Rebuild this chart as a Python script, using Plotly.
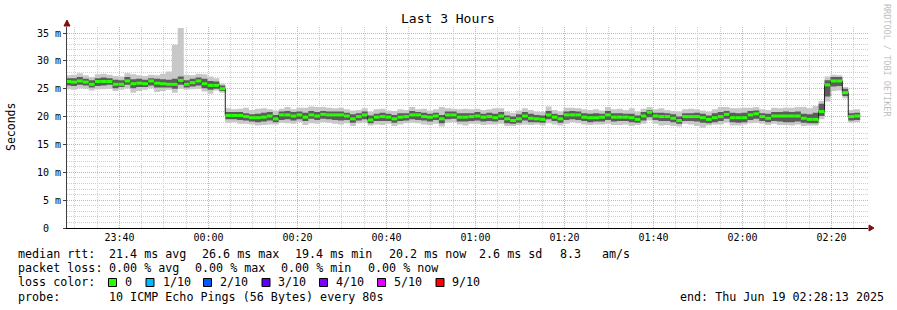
import plotly.graph_objects as go
from datetime import datetime, timedelta

# ---------------- data ----------------
median = [26.3, 26.2, 26.4, 26.2, 25.8, 26.3, 26.3, 26.3, 25.8, 25.8,
          26.4, 25.9, 26.0, 25.9, 26.4, 26.0, 25.9, 25.8, 25.8, 26.5,
          25.8, 26.1, 26.4, 25.9, 25.6, 25.6, 25.0, 20.2, 20.2, 20.2,
          20.0, 19.8, 19.8, 19.9, 20.1, 19.6, 20.3, 20.3, 20.1, 20.3,
          19.9, 20.3, 20.1, 20.4, 20.3, 20.3, 20.3, 20.1, 19.6, 20.0,
          20.3, 19.4, 19.9, 20.0, 19.9, 19.6, 19.9, 20.0, 20.3, 20.3,
          20.0, 19.9, 20.1, 19.6, 20.3, 20.3, 19.9, 19.9, 20.0, 20.1,
          19.9, 20.0, 19.8, 20.1, 19.6, 19.3, 19.6, 20.1, 19.7, 19.6,
          19.5, 20.3, 19.9, 19.6, 20.3, 20.3, 20.3, 19.9, 19.8, 19.8,
          19.9, 20.3, 19.9, 19.9, 19.9, 19.8, 19.5, 20.1, 20.8, 20.1,
          20.0, 20.0, 19.7, 19.3, 20.0, 20.0, 20.0, 19.8, 19.5, 19.8,
          20.0, 20.4, 19.8, 19.8, 19.8, 20.3, 20.5, 20.0, 19.7, 20.1,
          20.1, 20.1, 20.1, 20.1, 19.7, 19.5, 19.5, 20.9, 25.7, 26.4,
          26.4, 24.3, 20.0, 20.1]

ping_min = [24.9, 24.8, 25.1, 25.0, 24.7, 24.9, 24.9, 25.0, 24.6, 24.8,
            25.1, 24.3, 24.6, 24.8, 25.1, 24.4, 24.6, 24.8, 24.3, 25.0,
            24.8, 24.9, 25.0, 24.5, 24.1, 24.7, 24.3, 18.9, 19.0, 18.7,
            18.7, 18.6, 18.4, 18.5, 18.6, 18.6, 18.9, 18.8, 18.7, 19.0,
            18.5, 18.8, 18.7, 19.0, 18.9, 18.7, 18.6, 18.8, 18.3, 18.8,
            18.9, 18.4, 18.6, 18.5, 18.7, 18.3, 18.6, 18.8, 18.9, 18.8,
            18.6, 18.5, 18.7, 18.2, 18.9, 19.0, 18.6, 18.4, 18.7, 18.7,
            18.5, 18.6, 18.6, 18.7, 18.3, 18.3, 18.5, 18.6, 18.5, 18.6,
            18.4, 18.8, 18.6, 18.4, 18.7, 19.0, 18.8, 18.6, 18.5, 18.6,
            18.6, 18.7, 18.5, 18.5, 18.6, 18.3, 18.5, 18.7, 19.3, 18.7,
            18.4, 18.5, 18.3, 18.2, 18.7, 18.6, 18.3, 18.0, 18.4, 18.6,
            18.6, 18.9, 18.4, 18.4, 18.6, 18.8, 18.9, 18.7, 18.5, 18.7,
            18.5, 18.5, 18.4, 18.6, 18.3, 18.4, 18.4, 19.5, 22.7, 24.6,
            24.7, 23.3, 18.9, 19.0]

ping_q_lo = [25.6, 25.5, 25.7, 25.6, 25.2, 25.5, 25.6, 25.7, 25.1, 25.3,
             25.7, 25.1, 25.3, 25.3, 25.6, 25.2, 25.2, 25.2, 25.0, 25.7,
             25.2, 25.4, 25.6, 25.1, 24.8, 25.0, 24.6, 19.5, 19.5, 19.4,
             19.3, 19.1, 19.0, 19.1, 19.3, 19.0, 19.4, 19.5, 19.3, 19.5,
             19.2, 19.6, 19.4, 19.6, 19.5, 19.4, 19.3, 19.4, 18.9, 19.3,
             19.5, 18.8, 19.2, 19.2, 19.2, 18.9, 19.2, 19.3, 19.5, 19.4,
             19.3, 19.1, 19.4, 18.8, 19.5, 19.6, 19.1, 19.1, 19.2, 19.3,
             19.1, 19.2, 19.1, 19.4, 18.8, 18.7, 18.9, 19.3, 19.0, 19.0,
             18.9, 19.5, 19.2, 18.9, 19.4, 19.5, 19.4, 19.2, 19.0, 19.1,
             19.1, 19.4, 19.1, 19.2, 19.2, 19.0, 18.9, 19.3, 19.9, 19.4,
             19.2, 19.2, 19.0, 18.7, 19.2, 19.2, 19.1, 18.9, 18.8, 19.0,
             19.2, 19.6, 19.0, 18.9, 19.0, 19.4, 19.6, 19.2, 19.0, 19.2,
             19.1, 19.0, 19.0, 19.1, 18.9, 18.8, 18.8, 20.1, 23.6, 25.4,
             25.5, 23.7, 19.3, 19.4]

ping_q_hi = [26.9, 26.9, 27.1, 26.8, 26.5, 26.9, 27.0, 26.9, 26.6, 26.5,
             27.1, 26.7, 26.8, 26.6, 26.9, 26.8, 26.7, 26.6, 26.8, 27.2,
             26.5, 26.8, 27.0, 26.8, 26.4, 26.3, 25.6, 20.8, 20.8, 20.8,
             20.6, 20.4, 20.5, 20.7, 20.8, 20.3, 20.9, 21.0, 20.8, 20.9,
             20.7, 21.0, 20.8, 21.0, 20.9, 20.9, 20.9, 20.7, 20.4, 20.6,
             20.9, 20.2, 20.5, 20.7, 20.5, 20.3, 20.6, 20.6, 21.0, 20.8,
             20.7, 20.5, 20.7, 20.3, 20.9, 20.9, 20.6, 20.6, 20.6, 20.8,
             20.5, 20.7, 20.5, 20.8, 20.2, 20.0, 20.4, 20.8, 20.5, 20.3,
             20.2, 21.0, 20.5, 20.3, 20.9, 21.0, 20.9, 20.6, 20.5, 20.6,
             20.5, 21.0, 20.6, 20.6, 20.5, 20.5, 20.2, 20.8, 21.2, 20.7,
             20.7, 20.6, 20.4, 20.0, 20.6, 20.6, 20.7, 20.5, 20.2, 20.6,
             20.8, 21.0, 20.7, 20.6, 20.7, 21.0, 21.1, 20.6, 20.5, 20.8,
             20.8, 20.9, 20.8, 20.9, 20.5, 20.4, 20.7, 22.3, 26.5, 27.1,
             27.1, 25.0, 20.6, 20.7]

ping_max = [27.4, 27.5, 27.8, 27.4, 27.1, 27.6, 27.7, 27.5, 27.3, 27.2,
            27.8, 27.6, 27.4, 27.3, 27.5, 27.4, 27.7, 28.1, 32.9, 35.9,
            27.5, 27.4, 27.7, 27.6, 27.2, 26.9, 25.9, 21.5, 21.3, 21.4,
            21.6, 21.2, 21.4, 21.5, 21.3, 21.1, 21.4, 21.7, 21.3, 21.6,
            21.6, 21.8, 21.7, 21.7, 21.6, 21.5, 21.6, 21.3, 21.1, 21.2,
            21.5, 20.9, 21.3, 21.4, 21.1, 21.0, 21.3, 21.2, 21.7, 21.3,
            21.4, 21.1, 21.3, 21.7, 21.5, 21.4, 21.3, 21.4, 21.3, 21.4,
            21.2, 21.3, 21.5, 21.5, 20.9, 20.7, 21.1, 21.5, 21.2, 20.9,
            20.8, 21.8, 21.2, 20.9, 21.6, 21.6, 21.5, 21.3, 21.2, 21.3,
            21.1, 21.7, 21.3, 21.4, 21.2, 21.5, 20.9, 21.4, 21.7, 21.3,
            21.5, 21.2, 21.0, 20.9, 21.3, 21.4, 21.3, 21.1, 20.9, 21.3,
            21.7, 21.7, 21.5, 21.5, 21.6, 21.6, 21.7, 21.3, 21.2, 21.6,
            21.5, 21.6, 21.6, 21.7, 21.7, 21.5, 21.9, 22.8, 27.2, 27.5,
            27.4, 25.3, 21.2, 21.3]

y_tick_vals = [0, 5, 10, 15, 20, 25, 30, 35]
y_tick_text = ["0\u00a0\u00a0", "5 m", "10 m", "15 m", "20 m", "25 m", "30 m", "35 m"]

legend_colors = ["#26ff00", "#00b8ff", "#0059ff", "#5e00ff", "#7e00ff", "#dd00ff", "#ff0000"]
legend_labels = ["0", "1/10", "2/10", "3/10", "4/10", "5/10", "9/10"]

# ---------------- geometry helpers ----------------
W, H = 897, 310
L, R, T, B = 67, 868, 27, 228
FONT = "DejaVu Sans Mono"


def px(x):
    return (x - L) / (R - L)


def py(y):
    return (B - y) / (B - T)


step = timedelta(seconds=80)
t_start = datetime(2025, 6, 18, 23, 27, 47)
times = [t_start + step * k for k in range(len(median) + 1)]


def ext(a):
    return list(a) + [a[-1]]


fig = go.Figure()


def band(lo, hi, color):
    fig.add_trace(go.Scatter(x=times, y=ext(lo), mode="lines", line=dict(width=0, shape="hv"),
                             hoverinfo="skip", showlegend=False))
    fig.add_trace(go.Scatter(x=times, y=ext(hi), mode="lines", line=dict(width=0, shape="hv"),
                             fill="tonexty", fillcolor=color, hoverinfo="skip", showlegend=False))


band(ping_min, ping_max, "#c8c8c8")
band(ping_q_lo, ping_q_hi, "#5c5c5c")

# black median connector line
fig.add_trace(go.Scatter(x=times, y=ext(median), mode="lines",
                         line=dict(color="#202020", width=1, shape="hv"),
                         hoverinfo="skip", showlegend=False))

# green median bars
gx, gy = [], []
for k, m in enumerate(median):
    gx += [times[k], times[k + 1], None]
    gy += [m, m, None]
fig.add_trace(go.Scatter(x=gx, y=gy, mode="lines", line=dict(color="#26ff00", width=3),
                         hoverinfo="skip", showlegend=False))

fig.update_layout(
    width=W, height=H,
    margin=dict(l=L, r=W - R, t=T, b=H - B, pad=0),
    paper_bgcolor="white", plot_bgcolor="white",
    font=dict(family=FONT, size=10, color="black"),
    showlegend=False,
)

fig.update_xaxes(
    range=[datetime(2025, 6, 18, 23, 28, 13), datetime(2025, 6, 19, 2, 28, 13)],
    tick0="2025-06-18 23:40:00", dtick=20 * 60 * 1000, tickformat="%H:%M",
    showgrid=True, gridcolor="#f4a0a0", griddash="1px,1px", gridwidth=1,
    minor=dict(dtick=5 * 60 * 1000, tick0="2025-06-18 23:40:00", showgrid=True,
               gridcolor="#cfcfcf", griddash="1px,1px", gridwidth=1),
    showline=True, linecolor="black", linewidth=1,
    ticks="", tickfont=dict(family=FONT, size=10, color="black"),
    zeroline=False, fixedrange=True,
)
fig.update_yaxes(
    range=[0, 36.08],
    tickvals=y_tick_vals, ticktext=y_tick_text,
    showgrid=True, gridcolor="#f4a0a0", griddash="1px,1px", gridwidth=1,
    minor=dict(dtick=1, tick0=0, showgrid=True, gridcolor="#cfcfcf",
               griddash="1px,1px", gridwidth=1),
    showline=True, linecolor="#404040", linewidth=1,
    ticks="outside", ticklen=3, tickcolor="#404040",
    tickfont=dict(family=FONT, size=10, color="black"),
    zeroline=False, fixedrange=True,
)

ann = []


def text(x, y, s, size=11.7, color="black", xanchor="left", angle=0):
    ann.append(dict(x=px(x), y=py(y), xref="paper", yref="paper", text=s.replace(" ", "\u00a0"),
                    showarrow=False, xanchor=xanchor, yanchor="middle", textangle=angle,
                    font=dict(family=FONT, size=size, color=color)))


text(448, 19, "Last 3 Hours", size=13, xanchor="center")
text(11, 127, "Seconds", size=11.5, xanchor="center", angle=-90)
text(887, 60, "RRDTOOL / TOBI OETIKER", size=8.5, color="#c0c0c0", xanchor="center", angle=90)

# line 1
for s, x in [("median rtt:", 16), ("21.4 ms avg", 107.3), ("26.6 ms max", 200),
             ("19.4 ms min", 293.3), ("20.2 ms now", 386.7), ("2.6 ms sd", 476.7),
             ("8.3", 558.3), ("am/s", 600)]:
    text(x, 254.3, s)
# line 2
for s, x in [("packet loss:", 16), ("0.00 % avg", 107.3), ("0.00 % max", 193.3),
             ("0.00 % min", 279.3), ("0.00 % now", 365.7)]:
    text(x, 268.3, s)
# line 3
text(16, 282.3, "loss color:")
sq_x = [108.5, 146, 203.5, 262, 319.5, 377.5, 436]
lab_x = [123.3, 160.7, 218.3, 276, 334, 392.3, 450]
shapes = []
for c, lab, sx, lx in zip(legend_colors, legend_labels, sq_x, lab_x):
    shapes.append(dict(type="rect", xref="paper", yref="paper",
                       x0=px(sx), x1=px(sx + 8), y0=py(286.5), y1=py(278.5),
                       fillcolor=c, line=dict(color="black", width=1)))
    text(lx, 282.3, lab)
# line 4
text(16, 296.7, "probe:")
text(107.3, 296.7, "10 ICMP Echo Pings (56 Bytes) every 80s")
text(678.3, 296.7, "end: Thu Jun 19 02:28:13 2025")

# axis arrows
shapes.append(dict(type="path", xref="paper", yref="paper",
                   path=f"M {px(64)},{py(26)} L {px(70)},{py(26)} L {px(67)},{py(20)} Z",
                   fillcolor="#7f1010", line=dict(color="#7f1010", width=1)))
shapes.append(dict(type="path", xref="paper", yref="paper",
                   path=f"M {px(869)},{py(225)} L {px(869)},{py(231)} L {px(874)},{py(228)} Z",
                   fillcolor="#7f1010", line=dict(color="#7f1010", width=1)))

fig.update_layout(annotations=ann, shapes=shapes)

fig.write_html("out.html")
